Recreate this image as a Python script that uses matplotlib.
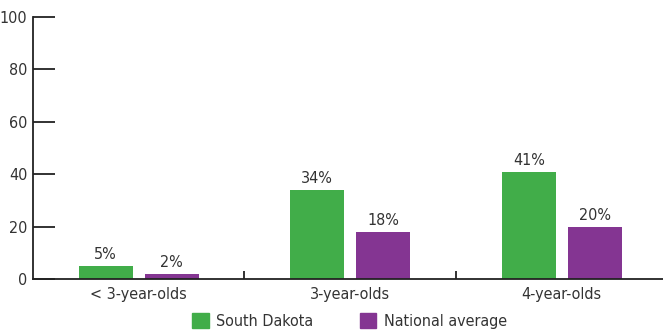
import matplotlib
matplotlib.use("Agg")
import matplotlib.pyplot as plt
from matplotlib.patches import Patch
import numpy as np

categories = ["< 3-year-olds", "3-year-olds", "4-year-olds"]
south_dakota = [5, 34, 41]
national = [2, 18, 20]
series_names = ["South Dakota", "National average"]
yticks = [0, 20, 40, 60, 80, 100]

plt.rcParams['font.family'] = ['DejaVu Sans']
plt.rcParams['font.stretch'] = 'condensed'
txt = '#333333'
green = '#41ad49'
purple = '#843592'

fig = plt.figure(figsize=(6.63, 3.32), dpi=100)
W, H = 663, 332
ax = fig.add_axes([33 / W, 53 / H, 630 / W, 262 / H])

x = np.arange(len(categories))
bw = 0.255
off = 0.156
b1 = ax.bar(x - off, south_dakota, bw, color=green)
b2 = ax.bar(x + off, national, bw, color=purple)
for bars, vals in ((b1, south_dakota), (b2, national)):
    for r, v in zip(bars, vals):
        ax.text(r.get_x() + r.get_width() / 2, v + 1.5, f"{v}%", ha='center', va='bottom',
                fontsize=11.5, color=txt)

ax.set_xlim(-0.5, 2.479)
ax.set_ylim(0, 100)
ax.set_yticks(yticks)
ax.set_yticklabels([str(t) for t in yticks])
ax.tick_params(axis='y', direction='in', length=16, width=1.3, colors='#222222',
               labelcolor=txt, labelsize=11.5, pad=4)
ax.set_xticks(x)
ax.set_xticklabels(categories)
ax.tick_params(axis='x', which='major', length=0, labelsize=11.5, labelcolor=txt, pad=6)
ax.set_xticks([0.5, 1.5], minor=True)
ax.tick_params(axis='x', which='minor', direction='in', length=6, width=1.3, colors='#222222')
for s in ('top', 'right'):
    ax.spines[s].set_visible(False)
for s in ('left', 'bottom'):
    ax.spines[s].set_linewidth(1.3)
    ax.spines[s].set_color('#222222')

handles = [Patch(color=green), Patch(color=purple)]
fig.legend(handles, series_names, loc='lower center', bbox_to_anchor=(0.527, -0.034), ncol=2,
           frameon=False, fontsize=11.5, handlelength=1.05, handleheight=1.05,
           columnspacing=2.9, handletextpad=0.45, labelcolor=txt)

fig.savefig("out.png", dpi=100)
